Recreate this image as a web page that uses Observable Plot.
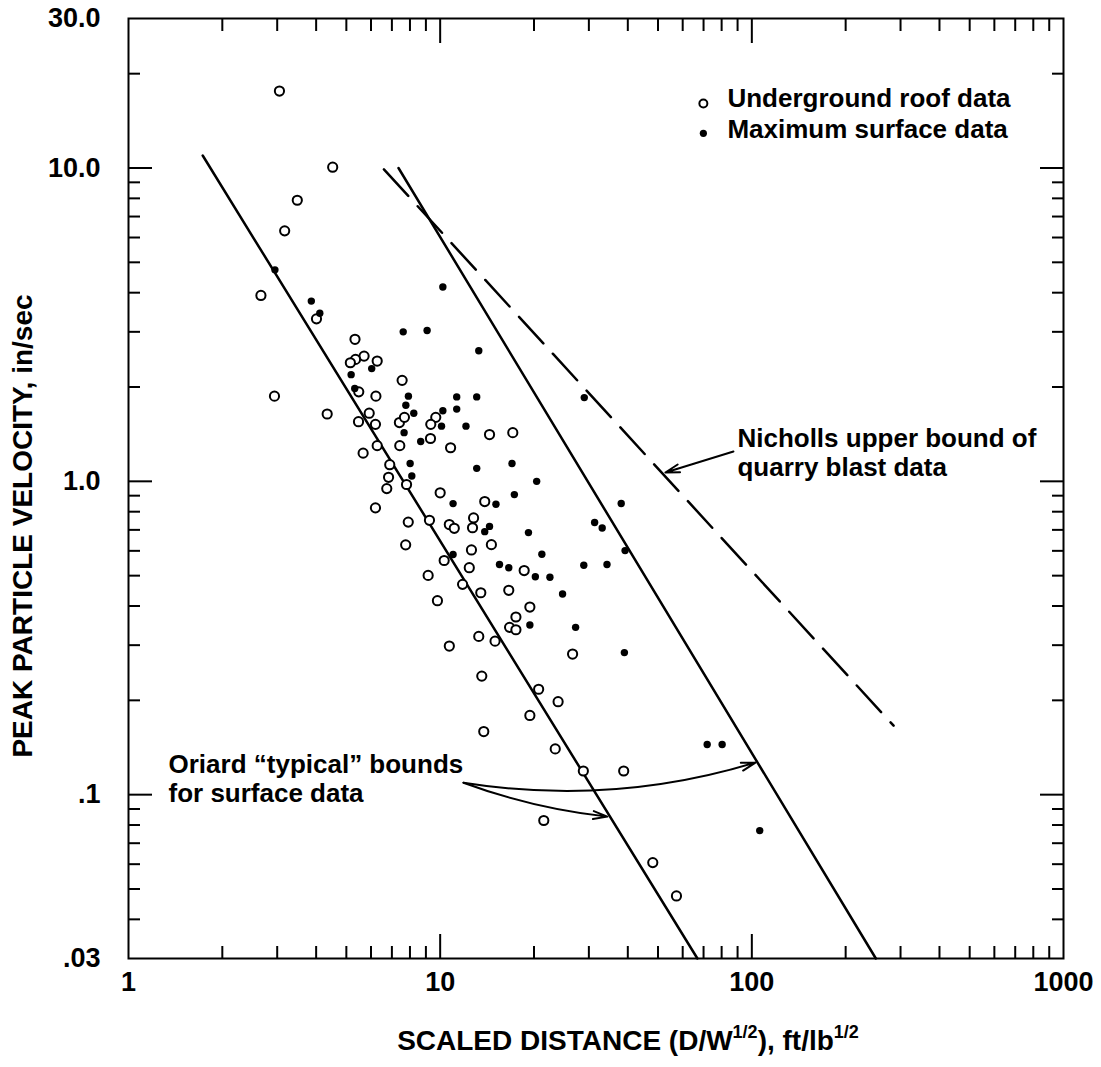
<!DOCTYPE html>
<html><head><meta charset="utf-8">
<script src="https://cdn.jsdelivr.net/npm/d3@7"></script>
<script src="https://cdn.jsdelivr.net/npm/@observablehq/plot@0.6"></script>
<style>html,body{margin:0;padding:0;background:#fff}</style>
</head><body><div id="chart"></div>
<script>
// Underground roof data (open circles)
const roofX = [3.05,4.52,3.48,3.17,2.66,4.01,5.33,5.70,5.35,5.15,6.28,7.55,5.48,2.94,6.22,4.34,5.92,5.47,6.20,7.40,7.68,9.68,9.33,14.4,17.1,9.31,10.8,7.42,6.28,5.66,6.89,6.83,7.80,6.74,10.0,13.9,6.20,7.90,9.24,10.7,11.1,12.8,12.7,7.75,12.6,14.6,10.3,12.4,18.6,9.15,11.8,13.5,16.6,9.80,19.4,17.5,16.7,17.5,13.3,15.0,10.7,26.6,13.6,20.7,23.9,19.4,13.8,23.4,28.8,38.8,21.5,48.1,57.3];
const roofY = [17.6,10.06,7.89,6.30,3.92,3.30,2.84,2.51,2.45,2.39,2.42,2.10,1.93,1.87,1.87,1.64,1.65,1.55,1.52,1.54,1.60,1.60,1.52,1.41,1.43,1.37,1.28,1.30,1.30,1.23,1.13,1.03,0.977,0.948,0.919,0.862,0.823,0.741,0.751,0.728,0.708,0.764,0.711,0.627,0.604,0.628,0.559,0.530,0.519,0.501,0.469,0.441,0.449,0.416,0.397,0.369,0.342,0.336,0.320,0.309,0.298,0.281,0.239,0.217,0.198,0.179,0.159,0.140,0.119,0.119,0.0827,0.0607,0.0475];
// Maximum surface data (filled dots)
const surfX = [2.95,3.86,4.11,7.61,9.08,10.2,13.3,6.03,5.18,5.32,7.91,11.3,13.1,7.76,8.23,10.2,11.3,7.66,10.1,12.1,8.66,8.01,13.1,17.0,20.4,8.11,17.3,11.0,15.1,38.1,13.9,14.4,19.2,31.3,33.1,11.0,21.2,39.2,15.5,16.6,20.2,22.5,28.9,34.3,24.7,19.4,27.2,39.0,29.0,71.9,80.3,106];
const surfY = [4.73,3.76,3.44,3.00,3.03,4.17,2.61,2.29,2.19,1.98,1.87,1.86,1.86,1.75,1.65,1.68,1.70,1.43,1.50,1.50,1.34,1.14,1.10,1.14,1.00,1.04,0.907,0.849,0.845,0.850,0.691,0.718,0.686,0.739,0.710,0.584,0.585,0.601,0.543,0.530,0.496,0.494,0.540,0.543,0.437,0.348,0.342,0.284,1.85,0.1445,0.1445,0.0768];

// Bound lines (endpoints)
const oriardLowX = [1.73, 66.9], oriardLowY = [10.96, 0.03];
const oriardHighX = [7.35, 250], oriardHighY = [10.0, 0.03];
const nichollsX = [6.6, 285], nichollsY = [9.9, 0.166];

// Ticks
const xLabelValues = [1, 10, 100, 1000];
const xLabelTexts = ["1", "10", "100", "1000"];
const xMajor = [10, 100];
const xMinor = [2,3,4,5,6,7,8,9,20,30,40,50,60,70,80,90,200,300,400,500,600,700,800,900];
const yLabelValues = [0.03, 0.1, 1, 10, 30];
const yLabelTexts = [".03", ".1", "1.0", "10.0", "30.0"];
const yMajor = [0.1, 1, 10];
const yMinor = [0.04,0.05,0.06,0.07,0.08,0.09,0.2,0.3,0.4,0.5,0.6,0.7,0.8,0.9,2,3,4,5,6,7,8,9,20];

// Legend and annotations (data-space anchors)
const legendLabels = ["Underground roof data", "Maximum surface data"];
const legendSymX = [69.9, 69.9], legendSymY = [16.06, 12.9];
const legendTextX = [83.5, 83.5], legendTextY = [16.7, 13.3];
const noteTexts = ["Nicholls upper bound of", "quarry blast data", "Oriard \u201Ctypical\u201D bounds", "for surface data"];
const noteX = [89.9, 89.9, 1.344, 1.344];
const noteY = [1.369, 1.107, 0.1247, 0.1008];
// arrows: [x1, y1, x2, y2]
const arrowNicholls = [87.3, 1.245, 52.8, 1.067];
const arrowOriardHigh = [11.88, 0.1092, 102.7, 0.1266];
const arrowOriardLow = [11.88, 0.1092, 34.4, 0.0851];

const xTitle = ["SCALED DISTANCE (D/W", "1/2", "), ft/lb", "1/2"];
const yTitle = "PEAK PARTICLE VELOCITY, in/sec";

const roof = roofX.map((x, i) => ({x, y: roofY[i]}));
const surf = surfX.map((x, i) => ({x, y: surfY[i]}));
const toLine = (X, Y) => X.map((x, i) => ({x, y: Y[i]}));
const legend = legendLabels.map((t, i) => ({t, sx: legendSymX[i], sy: legendSymY[i], tx: legendTextX[i], ty: legendTextY[i], filled: i === 1}));
const notes = noteTexts.map((t, i) => ({t, x: noteX[i], y: noteY[i]}));
const arr = a => [{x1: a[0], y1: a[1], x2: a[2], y2: a[3]}];

const FONT = "'Liberation Sans', Arial, sans-serif";
const FS = 26;
const tickCommon = {fill: "none", strokeWidth: 2, label: null};
const arrowStyle = {x1: "x1", y1: "y1", x2: "x2", y2: "y2", stroke: "black", strokeWidth: 2, headLength: 11, headAngle: 32};

const chart = Plot.plot({
  width: 1101, height: 1067,
  marginLeft: 128, marginRight: 38, marginTop: 18, marginBottom: 109,
  style: {fontFamily: FONT, fontSize: FS + "px", fontWeight: "bold", color: "black", background: "white"},
  x: {type: "log", domain: [1, 1000]},
  y: {type: "log", domain: [0.03, 30]},
  marks: [
    // inward ticks on four sides
    Plot.axisY({...tickCommon, anchor: "left", ticks: yMinor, tickSize: 12, dx: 12}),
    Plot.axisY({...tickCommon, anchor: "left", ticks: yMajor, tickSize: 24, dx: 24}),
    Plot.axisY({...tickCommon, anchor: "right", ticks: yMinor, tickSize: 12, dx: -12}),
    Plot.axisY({...tickCommon, anchor: "right", ticks: yMajor, tickSize: 24, dx: -24}),
    Plot.axisX({...tickCommon, anchor: "bottom", ticks: xMinor, tickSize: 12, dy: -12}),
    Plot.axisX({...tickCommon, anchor: "bottom", ticks: xMajor, tickSize: 24, dy: -24}),
    Plot.axisX({...tickCommon, anchor: "top", ticks: xMinor, tickSize: 12, dy: 12}),
    Plot.axisX({...tickCommon, anchor: "top", ticks: xMajor, tickSize: 24, dy: 24}),
    // tick labels
    Plot.axisY({anchor: "left", ticks: yLabelValues, tickSize: 0, tickPadding: 28, fontSize: 27, label: null,
      tickFormat: d => yLabelTexts[yLabelValues.indexOf(d)]}),
    Plot.axisX({anchor: "bottom", ticks: xLabelValues, tickSize: 0, tickPadding: 13, fontSize: 27, label: null,
      tickFormat: d => xLabelTexts[xLabelValues.indexOf(d)]}),
    Plot.frame({stroke: "black", strokeWidth: 2}),
    // bound lines
    Plot.line(toLine(oriardLowX, oriardLowY), {x: "x", y: "y", stroke: "black", strokeWidth: 2.5}),
    Plot.line(toLine(oriardHighX, oriardHighY), {x: "x", y: "y", stroke: "black", strokeWidth: 2.5}),
    Plot.line(toLine(nichollsX, nichollsY), {x: "x", y: "y", stroke: "black", strokeWidth: 2.5, strokeDasharray: "36,14"}),
    // data
    Plot.dot(roof, {x: "x", y: "y", r: 4.6, stroke: "black", strokeWidth: 2, fill: "white"}),
    Plot.dot(surf, {x: "x", y: "y", r: 3.7, fill: "black", stroke: "none"}),
    // legend
    Plot.dot(legend.filter(d => !d.filled), {x: "sx", y: "sy", r: 4, stroke: "black", strokeWidth: 2, fill: "white"}),
    Plot.dot(legend.filter(d => d.filled), {x: "sx", y: "sy", r: 3.6, fill: "black"}),
    Plot.text(legend, {x: "tx", y: "ty", text: "t", textAnchor: "start", lineAnchor: "middle", fontSize: FS, fontWeight: "bold", fill: "black"}),
    // annotations
    Plot.text(notes, {x: "x", y: "y", text: "t", textAnchor: "start", lineAnchor: "middle", fontSize: FS, fontWeight: "bold", fill: "black"}),
    Plot.arrow(arr(arrowNicholls), {...arrowStyle}),
    Plot.arrow(arr(arrowOriardHigh), {...arrowStyle, bend: -13}),
    Plot.arrow(arr(arrowOriardLow), {...arrowStyle, bend: -7})
  ]
});

// Axis titles with superscripts
const svg = d3.select(chart);
const xt = svg.append("text")
  .attr("x", 628).attr("y", 1050)
  .attr("text-anchor", "middle")
  .attr("font-family", FONT).attr("font-weight", "bold").attr("font-size", 28).attr("fill", "black");
xt.append("tspan").text(xTitle[0]);
xt.append("tspan").attr("dy", -12).attr("font-size", 18).text(xTitle[1]);
xt.append("tspan").attr("dy", 12).text(xTitle[2]);
xt.append("tspan").attr("dy", -12).attr("font-size", 18).text(xTitle[3]);

svg.append("text")
  .attr("transform", "translate(32,526) rotate(-90)")
  .attr("text-anchor", "middle")
  .attr("font-family", FONT).attr("font-weight", "bold").attr("font-size", 28).attr("fill", "black")
  .text(yTitle);

document.getElementById("chart").append(chart);
</script>
</body></html>
